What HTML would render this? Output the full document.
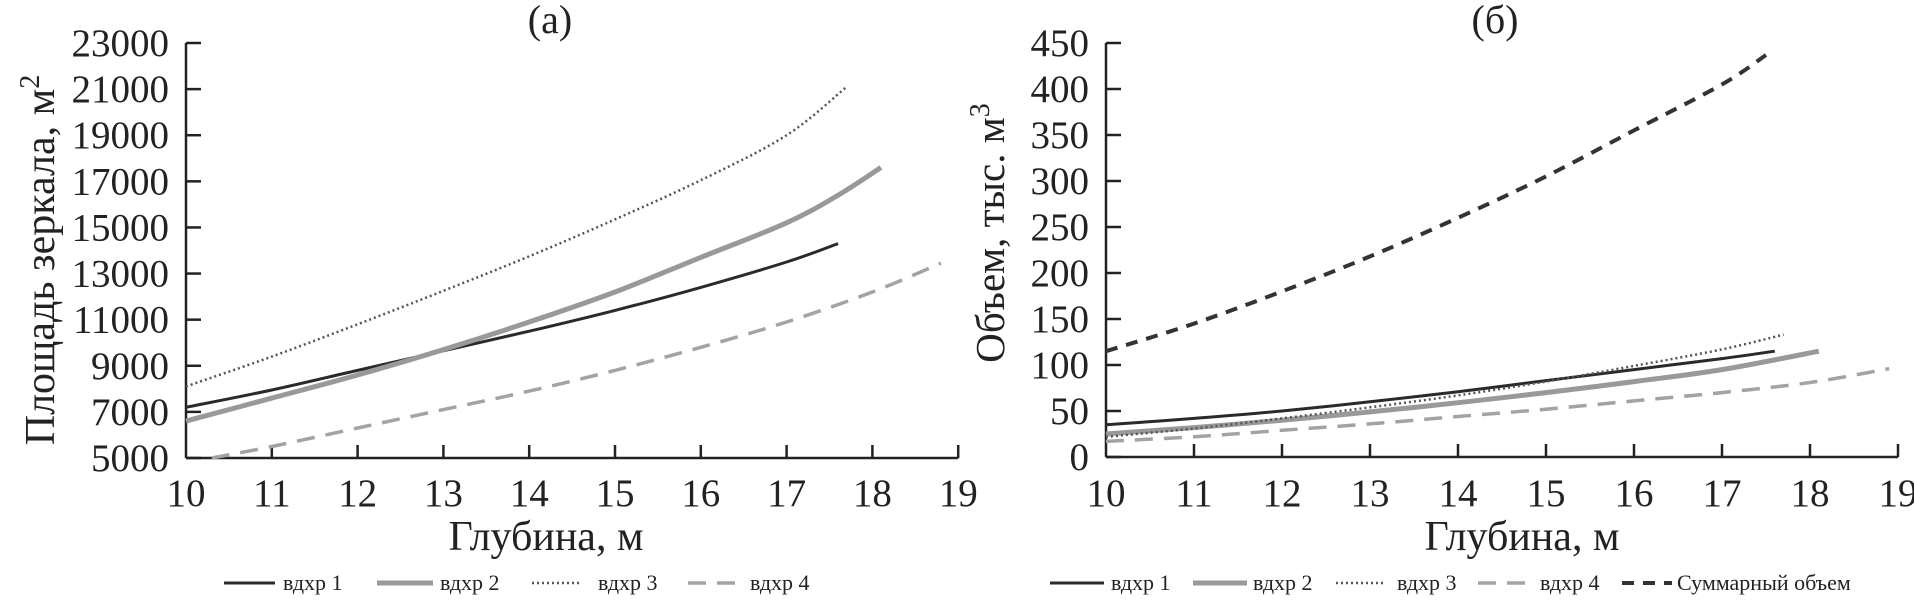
<!DOCTYPE html>
<html><head><meta charset="utf-8"><style>
html,body{margin:0;padding:0;background:#fff;}
svg{display:block;font-family:"Liberation Serif","DejaVu Serif",serif;}
</style></head><body>
<svg id="c" width="1914" height="605" viewBox="0 0 1914 605"></svg>
<script>
// ---- Shared ticks ----
const xTicks = [10,11,12,13,14,15,16,17,18,19];
const aYTicks = [5000,7000,9000,11000,13000,15000,17000,19000,21000,23000];
const bYTicks = [0,50,100,150,200,250,300,350,400,450];

// ---- Panel (a): surface area ----
const a1x = [10,11,12,13,14,15,16,17,17.6];
const a1y = [7200,7950,8800,9650,10500,11400,12400,13500,14300];
const a2x = [10,11,12,13,14,15,16,17,17.6,18.1];
const a2y = [6600,7600,8600,9700,10900,12200,13700,15200,16400,17600];
const a3x = [10,11,12,13,14,15,16,17,17.7];
const a3y = [8100,9400,10800,12250,13750,15350,17050,19000,21100];
const a4x = [10.3,11,12,13,14,15,16,17,18,18.8];
const a4y = [5000,5500,6300,7100,7900,8800,9800,10900,12200,13450];

// ---- Panel (b): volume ----
const b1x = [10,11,12,13,14,15,16,17,17.6];
const b1y = [35,42,50,60,71,83,95,107,115];
const b2x = [10,11,12,13,14,15,16,17,18.1];
const b2y = [25,32,40,49,59,70,82,95,115];
const b3x = [10,11,12,13,14,15,16,17,17.7];
const b3y = [22,31,42,54,67,82,99,117,133];
const b4x = [10,11,12,13,14,15,16,17,18,18.9];
const b4y = [17,22,29,36,44,52,61,70,81,96];
const bSx = [10,11,12,13,14,15,16,17,17.5];
const bSy = [115,145,180,218,260,305,355,405,437];

const NS = "http://www.w3.org/2000/svg";
const svg = document.getElementById('c');
function mk(tag, attrs, parent){
  const e = document.createElementNS(NS, tag);
  for (const k in attrs) e.setAttribute(k, attrs[k]);
  (parent||svg).appendChild(e);
  return e;
}
const A = {x0:186, xs:85.8, yb:458, yt:43, ymin:5000, ymax:23000};
const B = {x0:1106, xs:88, yb:457, yt:43, ymin:0, ymax:450};
function sx(P,v){ return P.x0 + (v-10)*P.xs; }
function sy(P,v){ return P.yb - (v-P.ymin)/(P.ymax-P.ymin)*(P.yb-P.yt); }

function axes(P, yTicks, name){
  const g = mk('g',{});
  
  
  const yl = mk('line',{x1:P.x0,y1:P.yt,x2:P.x0,y2:P.yb,stroke:'#222','stroke-width':2.5},g);
  
  
  const xEnd = sx(P,19);
  const xl = mk('line',{x1:P.x0,y1:P.yb,x2:xEnd,y2:P.yb,stroke:'#222','stroke-width':2.5},g);
  
  
  yTicks.forEach(v=>{
    const y = sy(P,v);
    mk('line',{x1:P.x0,y1:y,x2:P.x0+15,y2:y,stroke:'#222','stroke-width':2.5},g);
    const t = mk('text',{x:P.x0-17,y:y+13,'text-anchor':'end','font-size':39,fill:'#222'},g);
    
    
    t.textContent = v;
  });
  xTicks.forEach(v=>{
    const x = sx(P,v);
    if (v>10) mk('line',{x1:x,y1:P.yb,x2:x,y2:P.yb-13,stroke:'#222','stroke-width':2.5},g);
    const t = mk('text',{x:x,y:506,'text-anchor':'middle','font-size':39,fill:'#222'},g);
    
    
    t.textContent = v;
  });
}
function series(P, xs, ys, style, name){
  const pts = xs.map((x,i)=>[sx(P,x), sy(P,ys[i])]);
  let d = 'M'+pts[0][0].toFixed(1)+' '+pts[0][1].toFixed(1);
  for (let i=0;i<pts.length-1;i++){
    const p0 = pts[i-1]||pts[i], p1=pts[i], p2=pts[i+1], p3=pts[i+2]||pts[i+1];
    const c1 = [p1[0]+(p2[0]-p0[0])/6, p1[1]+(p2[1]-p0[1])/6];
    const c2 = [p2[0]-(p3[0]-p1[0])/6, p2[1]-(p3[1]-p1[1])/6];
    d += ' C'+c1[0].toFixed(1)+' '+c1[1].toFixed(1)+' '+c2[0].toFixed(1)+' '+c2[1].toFixed(1)+' '+p2[0].toFixed(1)+' '+p2[1].toFixed(1);
  }
  const p = mk('path',Object.assign({d:d,fill:'none','stroke-linecap':'butt','stroke-linejoin':'round'},style));
  
  
}
const S1 = {stroke:'#2a2a2a','stroke-width':3};
const S2 = {stroke:'#999','stroke-width':5};
const S3 = {stroke:'#555','stroke-width':2.5,'stroke-dasharray':'2 3'};
const S4 = {stroke:'#a3a3a3','stroke-width':3.5,'stroke-dasharray':'18 11'};
const SS = {stroke:'#333','stroke-width':4,'stroke-dasharray':'12 9'};

axes(A, aYTicks, 'area');
axes(B, bYTicks, 'volume');
series(A,a1x,a1y,S1,'area-line-vdhr1');
series(A,a2x,a2y,S2,'area-line-vdhr2');
series(A,a3x,a3y,S3,'area-line-vdhr3');
series(A,a4x,a4y,S4,'area-line-vdhr4');
series(B,b1x,b1y,S1,'volume-line-vdhr1');
series(B,b2x,b2y,S2,'volume-line-vdhr2');
series(B,b3x,b3y,S3,'volume-line-vdhr3');
series(B,b4x,b4y,S4,'volume-line-vdhr4');
series(B,bSx,bSy,SS,'volume-line-total');

function legendItem(x1,x2,tx,label,style,name){
  const g = mk('g',{});
  
  
  mk('line',Object.assign({x1:x1,y1:583,x2:x2,y2:583},style),g);
  const t = mk('text',{x:tx,y:590,'font-size':22,fill:'#222'},g);
  t.textContent = label;
}
legendItem(224,275,283,'вдхр 1',S1,'area-legend-vdhr1');
legendItem(377,433,440,'вдхр 2',S2,'area-legend-vdhr2');
legendItem(532,581,598,'вдхр 3',S3,'area-legend-vdhr3');
legendItem(688,742,750,'вдхр 4',S4,'area-legend-vdhr4');
legendItem(1050,1104,1111,'вдхр 1',S1,'volume-legend-vdhr1');
legendItem(1193,1247,1253,'вдхр 2',S2,'volume-legend-vdhr2');
legendItem(1336,1385,1397,'вдхр 3',S3,'volume-legend-vdhr3');
legendItem(1478,1533,1540,'вдхр 4',S4,'volume-legend-vdhr4');
legendItem(1622,1672,1677,'Суммарный объем',SS,'volume-legend-total');
</script>
<script>
(function(){
  const NS="http://www.w3.org/2000/svg", svg=document.getElementById('c');
  function txt(attrs, html, name){
    const t=document.createElementNS(NS,'text');
    for(const k in attrs) t.setAttribute(k,attrs[k]);
    t.innerHTML=html;
    
    
    svg.appendChild(t);
  }
  txt({x:550,y:33,'text-anchor':'middle','font-size':40,fill:'#222'},'(a)','panel-a-title');
  txt({x:1495,y:33,'text-anchor':'middle','font-size':40,fill:'#222'},'(б)','panel-b-title');
  txt({x:546,y:550,'text-anchor':'middle','font-size':42,fill:'#222'},'Глубина, м','area-x-axis-title');
  txt({x:1522,y:550,'text-anchor':'middle','font-size':42,fill:'#222'},'Глубина, м','volume-x-axis-title');
  txt({x:0,y:0,'text-anchor':'middle','font-size':42,fill:'#222',transform:'translate(54,260) rotate(-90)'},'Площадь зеркала, м<tspan baseline-shift="super" font-size="28">2</tspan>','area-y-axis-title');
  txt({x:0,y:0,'text-anchor':'middle','font-size':41,fill:'#222',transform:'translate(1004,233) rotate(-90)'},'Объем, тыс. м<tspan baseline-shift="super" font-size="28">3</tspan>','volume-y-axis-title');
})();
</script>
</body></html>
